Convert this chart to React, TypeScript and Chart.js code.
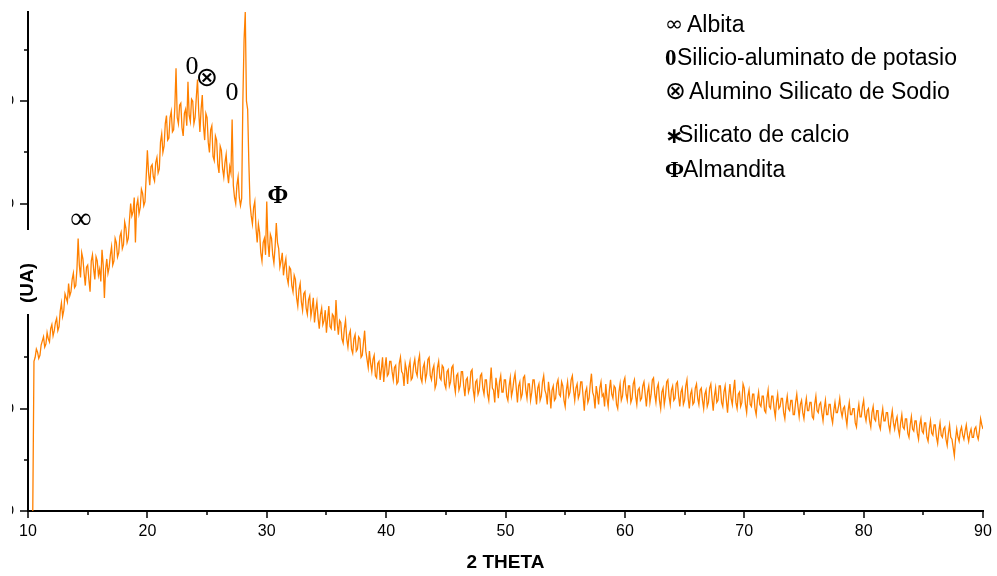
import { useEffect, useRef } from "react";
import { Chart, registerables } from "chart.js";

Chart.register(...registerables);

// 2θ sampling of the scan (degrees)
const START_2THETA = 10.4;
const STEP_2THETA = 0.1;

// Intensity (arbitrary units) read from the pattern, one value per 0.1° step from 10.4° to 90.0°
// (each row covers 2°)
const intensity = [
  0, 146, 150, 158, 155, 149, 152, 162, 166, 170, 160, 163, 174, 168, 165, 178, 182, 171, 176, 184,
  188, 176, 180, 195, 203, 190, 196, 212, 208, 204, 222, 210, 214, 226, 232, 218, 220, 236, 266, 240,
  228, 252, 246, 232, 220, 238, 240, 226, 214, 244, 250, 236, 226, 248, 244, 230, 236, 224, 255, 240,
  208, 236, 246, 232, 238, 250, 258, 240, 244, 266, 262, 248, 252, 268, 272, 256, 260, 282, 276, 262,
  266, 284, 300, 288, 292, 306, 262, 298, 304, 290, 296, 314, 310, 298, 302, 326, 352, 330, 318, 336,
  338, 326, 322, 340, 345, 330, 334, 360, 368, 350, 356, 378, 386, 362, 364, 384, 390, 370, 372, 394,
  432, 384, 378, 396, 398, 374, 366, 388, 392, 376, 419, 386, 380, 402, 400, 378, 384, 404, 421, 390,
  370, 392, 406, 376, 362, 388, 384, 360, 350, 372, 376, 346, 342, 366, 362, 338, 330, 356, 352, 334,
  326, 340, 348, 330, 320, 336, 330, 382, 318, 306, 300, 318, 326, 306, 298, 305, 401, 460, 487, 400,
  392, 340, 300, 288, 280, 296, 302, 276, 262, 280, 272, 252, 244, 262, 266, 250, 302, 262, 248, 270,
  266, 250, 242, 258, 281, 262, 256, 238, 244, 252, 230, 240, 246, 228, 222, 238, 236, 220, 214, 230,
  226, 208, 200, 216, 222, 204, 196, 212, 214, 198, 192, 206, 210, 190, 198, 208, 184, 196, 204, 188,
  178, 192, 198, 182, 186, 196, 174, 188, 200, 180, 178, 192, 190, 176, 206, 184, 172, 186, 184, 168,
  164, 178, 186, 168, 160, 172, 176, 158, 154, 168, 172, 156, 158, 170, 168, 150, 152, 164, 176, 156,
  148, 140, 156, 144, 136, 148, 152, 132, 130, 144, 146, 128, 138, 150, 126, 140, 150, 132, 134, 146,
  146, 136, 128, 140, 142, 124, 126, 144, 150, 136, 134, 122, 144, 138, 124, 140, 146, 128, 130, 142,
  148, 136, 132, 146, 152, 130, 126, 140, 144, 128, 134, 148, 150, 132, 128, 138, 142, 120, 124, 140,
  146, 130, 128, 142, 140, 124, 120, 136, 138, 122, 126, 140, 142, 124, 116, 132, 134, 118, 122, 136,
  136, 122, 112, 128, 130, 116, 120, 136, 138, 118, 110, 126, 128, 114, 118, 132, 134, 120, 114, 128,
  128, 114, 108, 124, 140, 120, 118, 106, 130, 122, 110, 126, 132, 116, 116, 128, 128, 112, 108, 122,
  130, 112, 118, 128, 134, 120, 106, 122, 126, 110, 114, 130, 132, 118, 110, 124, 124, 108, 116, 128,
  128, 116, 104, 120, 124, 108, 112, 126, 132, 118, 114, 104, 126, 116, 100, 118, 122, 108, 110, 124,
  128, 114, 112, 126, 122, 108, 102, 118, 126, 112, 116, 128, 132, 118, 108, 120, 124, 110, 114, 126,
  126, 112, 98, 116, 120, 106, 110, 124, 134, 116, 112, 100, 122, 114, 104, 120, 126, 112, 114, 102,
  124, 110, 102, 118, 128, 114, 110, 122, 120, 104, 100, 116, 124, 108, 112, 126, 130, 114, 108, 122,
  122, 106, 110, 124, 128, 112, 104, 118, 120, 108, 110, 122, 126, 114, 102, 116, 122, 106, 114, 128,
  130, 114, 106, 120, 124, 108, 100, 116, 120, 104, 112, 126, 128, 112, 104, 118, 122, 108, 110, 124,
  126, 112, 102, 116, 120, 104, 108, 122, 128, 110, 100, 114, 118, 104, 106, 120, 124, 110, 104, 118,
  120, 108, 100, 114, 118, 102, 106, 120, 124, 110, 98, 112, 120, 106, 108, 122, 122, 106, 102, 116,
  122, 108, 96, 112, 124, 110, 104, 118, 128, 106, 100, 114, 116, 102, 106, 124, 120, 104, 96, 112,
  118, 104, 102, 114, 114, 100, 94, 108, 116, 104, 102, 112, 112, 98, 96, 110, 118, 102, 100, 112,
  112, 100, 92, 106, 114, 100, 102, 110, 110, 96, 90, 104, 112, 100, 98, 108, 108, 94, 94, 106,
  114, 102, 92, 104, 108, 96, 90, 102, 110, 98, 98, 106, 106, 92, 90, 104, 112, 98, 96, 104,
  106, 96, 88, 100, 108, 94, 94, 104, 104, 92, 86, 98, 106, 96, 96, 102, 110, 98, 92, 100,
  102, 92, 84, 98, 106, 94, 94, 100, 100, 86, 82, 96, 104, 92, 92, 102, 108, 94, 88, 98,
  100, 88, 82, 96, 102, 90, 88, 98, 98, 84, 80, 92, 100, 88, 88, 96, 96, 84, 78, 90,
  98, 86, 80, 88, 92, 80, 74, 86, 94, 82, 80, 90, 90, 76, 72, 84, 92, 80, 78, 88,
  88, 76, 70, 84, 90, 78, 76, 86, 86, 72, 68, 80, 88, 76, 74, 84, 84, 72, 66, 78,
  86, 74, 72, 80, 82, 70, 64, 76, 84, 72, 70, 62, 54, 70, 80, 72, 68, 78, 82, 74,
  70, 78, 84, 74, 68, 76, 80, 72, 72, 80, 82, 74, 70, 78, 90, 84, 80,
];

const xMajorTicks = [10, 20, 30, 40, 50, 60, 70, 80, 90];
const xMinorTicks = [15, 25, 35, 45, 55, 65, 75, 85];
const yMajorTicks = [0, 100, 200, 300, 400];
const yMinorTicks = [50, 150, 250, 350, 450];

// Phase markers placed over the peaks (2θ, intensity)
const peakSymbols = ["∞", "0", "⊗", "0", "Φ"];
const peakX = [14.44, 23.74, 24.99, 27.09, 30.94];
const peakY = [284, 433, 422, 408, 307];
const peakFonts = [
  "30px 'Liberation Serif', serif",
  "26px 'Liberation Serif', serif",
  "27px 'DejaVu Sans', sans-serif",
  "26px 'Liberation Serif', serif",
  "bold 25px 'Liberation Serif', serif",
];

// Legend of phases
const legendSymbols = ["∞", "0", "⊗", "∗", "Φ"];
const legendLabels = [
  "Albita",
  "Silicio-aluminato de potasio",
  "Alumino Silicato de Sodio",
  "Silicato de calcio",
  "Almandita",
];

const SANS = "'Liberation Sans', Arial, sans-serif";

export default function App() {
  const canvasRef = useRef<HTMLCanvasElement | null>(null);

  useEffect(() => {
    const canvas = canvasRef.current;
    if (!canvas) return;

    const points = intensity.map((y, i) => ({
      x: +(START_2THETA + i * STEP_2THETA).toFixed(1),
      y,
    }));

    const overlay = {
      id: "overlay",
      afterDraw(chart: any) {
        const { ctx, chartArea, scales } = chart;
        const xs = scales.x;
        const ys = scales.y;
        ctx.save();
        ctx.strokeStyle = "#000";
        ctx.lineWidth = 1.5;
        const drawX = (v: number, len: number) => {
          const px = Math.round(xs.getPixelForValue(v));
          ctx.beginPath();
          ctx.moveTo(px, chartArea.bottom);
          ctx.lineTo(px, chartArea.bottom + len);
          ctx.stroke();
        };
        const drawY = (v: number, len: number) => {
          const py = Math.round(ys.getPixelForValue(v));
          ctx.beginPath();
          ctx.moveTo(chartArea.left, py);
          ctx.lineTo(chartArea.left - len, py);
          ctx.stroke();
        };
        xMajorTicks.forEach((v) => drawX(v, 7));
        xMinorTicks.forEach((v) => drawX(v, 4));
        yMajorTicks.forEach((v) => drawY(v, 8));
        yMinorTicks.forEach((v) => drawY(v, 4));

        // y-axis title with its white box breaking the axis line
        ctx.fillStyle = "#fff";
        ctx.fillRect(0, 230, 46, 84);
        ctx.save();
        ctx.translate(28, 283);
        ctx.rotate(-Math.PI / 2);
        ctx.fillStyle = "#000";
        ctx.font = `bold 19px ${SANS}`;
        ctx.textAlign = "center";
        ctx.textBaseline = "middle";
        ctx.fillText("(UA)", 0, 0);
        ctx.restore();

        // peak markers
        ctx.fillStyle = "#000";
        ctx.textAlign = "center";
        ctx.textBaseline = "middle";
        peakSymbols.forEach((s, i) => {
          ctx.font = peakFonts[i];
          ctx.fillText(s, xs.getPixelForValue(peakX[i]), ys.getPixelForValue(peakY[i]));
        });

        // legend
        const baselines = [32, 65, 99, 142, 177];
        const symBaselines = [31, 65, 99, 143, 177];
        const textX = [687, 677, 689, 678, 683];
        const symFonts = [
          "22px 'DejaVu Sans', sans-serif",
          "bold 23px 'Liberation Serif', serif",
          "25px 'DejaVu Sans', sans-serif",
          "bold 22px 'DejaVu Sans', sans-serif",
          "bold 23px 'Liberation Serif', serif",
        ];
        ctx.textAlign = "left";
        ctx.textBaseline = "alphabetic";
        legendLabels.forEach((label, i) => {
          ctx.font = symFonts[i];
          ctx.fillText(legendSymbols[i], 665, symBaselines[i]);
          ctx.font = `23px ${SANS}`;
          ctx.fillText(label, textX[i], baselines[i]);
        });

        // the original picture is cropped at its left edge
        ctx.clearRect(0, 0, 12, chart.height);
        ctx.restore();
      },
    };

    const chart = new Chart(canvas, {
      type: "line",
      data: {
        datasets: [
          {
            data: points,
            borderColor: "#FF8000",
            borderWidth: 1.3,
            pointRadius: 0,
            tension: 0,
            fill: false,
          },
        ],
      },
      options: {
        animation: false,
        responsive: false,
        maintainAspectRatio: false,
        layout: { padding: { top: 12, right: 14, left: 0, bottom: 0 } },
        plugins: {
          legend: { display: false },
          tooltip: { enabled: false },
        },
        scales: {
          x: {
            type: "linear",
            min: 10,
            max: 90,
            afterFit: (s: any) => {
              s.height = 65;
              s.paddingLeft = 0;
              s.paddingRight = 0;
            },
            afterBuildTicks: (s: any) => {
              s.ticks = xMajorTicks.map((v) => ({ value: v }));
            },
            grid: { display: false, drawTicks: false },
            border: { display: true, color: "#000", width: 2 },
            ticks: {
              color: "#000",
              font: { family: SANS, size: 16 },
              padding: 11,
              maxRotation: 0,
              autoSkip: false,
            },
            title: {
              display: true,
              text: "2 THETA",
              color: "#000",
              font: { family: SANS, size: 19, weight: "bold" },
              padding: { top: 0, bottom: 2 },
            },
          },
          y: {
            type: "linear",
            min: 0,
            max: 487,
            afterFit: (s: any) => {
              s.width = 28;
              s.paddingTop = 0;
              s.paddingBottom = 0;
            },
            afterBuildTicks: (s: any) => {
              s.ticks = yMajorTicks.map((v) => ({ value: v }));
            },
            grid: { display: false, drawTicks: false },
            border: { display: true, color: "#000", width: 2 },
            ticks: {
              color: "#000",
              font: { family: SANS, size: 15 },
              padding: 14,
              autoSkip: false,
            },
          },
        },
      },
      plugins: [overlay],
    });

    return () => chart.destroy();
  }, []);

  return (
    <div style={{ position: "fixed", left: 0, top: 0, width: 997, height: 576, background: "#fff" }}>
      <canvas ref={canvasRef} width={997} height={576} />
    </div>
  );
}
